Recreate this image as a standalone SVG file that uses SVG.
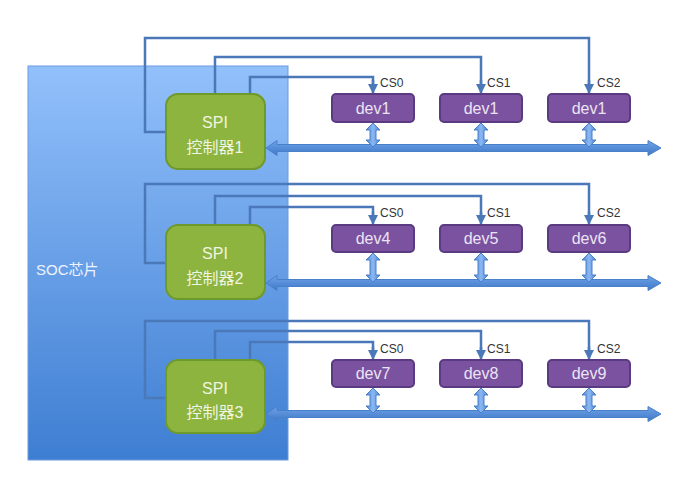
<svg xmlns="http://www.w3.org/2000/svg" width="686" height="479" viewBox="0 0 686 479">
<defs>
<linearGradient id="soc" x1="0" y1="0" x2="0" y2="1">
<stop offset="0" stop-color="#92c0fb"/>
<stop offset="1" stop-color="#3e7ed2"/>
</linearGradient>
<linearGradient id="busg" x1="0" y1="0" x2="0" y2="1">
<stop offset="0" stop-color="#6fa3e8"/>
<stop offset="1" stop-color="#3f78c8"/>
</linearGradient>
<linearGradient id="vg" x1="0" y1="0" x2="1" y2="0">
<stop offset="0" stop-color="#4f86d0"/>
<stop offset="0.5" stop-color="#8ab8f4"/>
<stop offset="1" stop-color="#4f86d0"/>
</linearGradient>
<marker id="ah" viewBox="0 0 10 10" refX="9" refY="5" markerWidth="4" markerHeight="4" orient="auto">
<path d="M0,0 L10,5 L0,10 z" fill="#4a78b8"/>
</marker>
</defs>
<style>
.ctl{fill:#8db43f;stroke:#6e9a2c;stroke-width:2}
.dev{fill:#7a52a0;stroke:#5a3a80;stroke-width:2}
.sig{fill:none;stroke:#4a78b8;stroke-width:2.5}
.sigA{fill:none;stroke:#4a78b8;stroke-width:2.5;marker-end:url(#ah)}
.bus{fill:url(#busg);stroke:#4a80c8;stroke-width:1}
.vbus{fill:url(#vg);stroke:#4a80c8;stroke-width:1}
.ct{font-family:"Liberation Sans","Noto Sans CJK SC",sans-serif;font-size:16px;fill:#f0f4e0;text-anchor:middle}
.dt{font-family:"Liberation Sans",sans-serif;font-size:16px;fill:#ece4f4;text-anchor:middle}
.cs{font-family:"Liberation Sans",sans-serif;font-size:12px;fill:#333}
.soct{font-family:"Liberation Sans","Noto Sans CJK SC",sans-serif;font-size:15px;fill:#eef4ff}
</style>
<rect width="686" height="479" fill="#ffffff"/>
<g id="soc-chip">
<rect x="28" y="66" width="260" height="394" fill="url(#soc)" stroke="#6a9be0" stroke-width="1"/>
<text class="soct" x="36" y="275">SOC芯片</text>
</g>
<g id="connectors">
<path class="sig" d="M166,132 H145 V38 H589 V90"/>
<path class="sigA" d="M589,80 V93"/>
<path class="sig" d="M215,94 V57 H481 V90"/>
<path class="sigA" d="M481,80 V93"/>
<path class="sig" d="M250,94 V77 H373 V90"/>
<path class="sigA" d="M373,80 V93"/>
<path class="sig" d="M166,263 H145 V184 H589 V221"/>
<path class="sigA" d="M589,212 V224"/>
<path class="sig" d="M215,225 V196 H481 V221"/>
<path class="sigA" d="M481,212 V224"/>
<path class="sig" d="M250,225 V207 H373 V221"/>
<path class="sigA" d="M373,212 V224"/>
<path class="sig" d="M166,398 H145 V321 H589 V356"/>
<path class="sigA" d="M589,347 V359"/>
<path class="sig" d="M215,360 V331 H481 V356"/>
<path class="sigA" d="M481,347 V359"/>
<path class="sig" d="M250,360 V342 H373 V356"/>
<path class="sigA" d="M373,347 V359"/>
<path class="bus" d="M266,148 L277,140.5 V144.5 H648 V140.5 L661,148 L648,155.5 V151.5 H277 V155.5 Z"/>
<path class="bus" d="M266,283 L277,275.5 V279.5 H648 V275.5 L661,283 L648,290.5 V286.5 H277 V290.5 Z"/>
<path class="bus" d="M266,414 L277,406.5 V410.5 H648 V406.5 L661,414 L648,421.5 V417.5 H277 V421.5 Z"/>
<path class="vbus" d="M373,123 L380,130 H376 V140 H380 L373,147 L366,140 H370 V130 H366 Z"/>
<path class="vbus" d="M481,123 L488,130 H484 V140 H488 L481,147 L474,140 H478 V130 H474 Z"/>
<path class="vbus" d="M589,123 L596,130 H592 V140 H596 L589,147 L582,140 H586 V130 H582 Z"/>
<path class="vbus" d="M373,253 L380,260 H376 V275 H380 L373,282 L366,275 H370 V260 H366 Z"/>
<path class="vbus" d="M481,253 L488,260 H484 V275 H488 L481,282 L474,275 H478 V260 H474 Z"/>
<path class="vbus" d="M589,253 L596,260 H592 V275 H596 L589,282 L582,275 H586 V260 H582 Z"/>
<path class="vbus" d="M373,388 L380,395 H376 V406 H380 L373,413 L366,406 H370 V395 H366 Z"/>
<path class="vbus" d="M481,388 L488,395 H484 V406 H488 L481,413 L474,406 H478 V395 H474 Z"/>
<path class="vbus" d="M589,388 L596,395 H592 V406 H596 L589,413 L582,406 H586 V395 H582 Z"/>
<text class="cs" x="380" y="87">CS0</text>
<text class="cs" x="487" y="87">CS1</text>
<text class="cs" x="597" y="87">CS2</text>
<text class="cs" x="380" y="217">CS0</text>
<text class="cs" x="487" y="217">CS1</text>
<text class="cs" x="597" y="217">CS2</text>
<text class="cs" x="380" y="353">CS0</text>
<text class="cs" x="487" y="353">CS1</text>
<text class="cs" x="597" y="353">CS2</text>
</g>
<g id="spi1"><rect class="ctl" x="166" y="94" width="99" height="75" rx="12"/><text class="ct" x="215" y="128">SPI</text><text class="ct" x="215" y="153">控制器1</text></g>
<g id="spi2"><rect class="ctl" x="166" y="225" width="99" height="74" rx="12"/><text class="ct" x="215" y="259">SPI</text><text class="ct" x="215" y="284">控制器2</text></g>
<g id="spi3"><rect class="ctl" x="166" y="360" width="99" height="73" rx="12"/><text class="ct" x="215" y="394">SPI</text><text class="ct" x="215" y="418">控制器3</text></g>
<g id="dev1a"><rect class="dev" x="332" y="94" width="82" height="28" rx="4"/><text class="dt" x="373" y="114">dev1</text></g>
<g id="dev1b"><rect class="dev" x="440" y="94" width="82" height="28" rx="4"/><text class="dt" x="481" y="114">dev1</text></g>
<g id="dev1c"><rect class="dev" x="548" y="94" width="82" height="28" rx="4"/><text class="dt" x="589" y="114">dev1</text></g>
<g id="dev4"><rect class="dev" x="332" y="225" width="82" height="27" rx="4"/><text class="dt" x="373" y="244">dev4</text></g>
<g id="dev5"><rect class="dev" x="440" y="225" width="82" height="27" rx="4"/><text class="dt" x="481" y="244">dev5</text></g>
<g id="dev6"><rect class="dev" x="548" y="225" width="82" height="27" rx="4"/><text class="dt" x="589" y="244">dev6</text></g>
<g id="dev7"><rect class="dev" x="332" y="360" width="82" height="27" rx="4"/><text class="dt" x="373" y="379">dev7</text></g>
<g id="dev8"><rect class="dev" x="440" y="360" width="82" height="27" rx="4"/><text class="dt" x="481" y="379">dev8</text></g>
<g id="dev9"><rect class="dev" x="548" y="360" width="82" height="27" rx="4"/><text class="dt" x="589" y="379">dev9</text></g>
</svg>
